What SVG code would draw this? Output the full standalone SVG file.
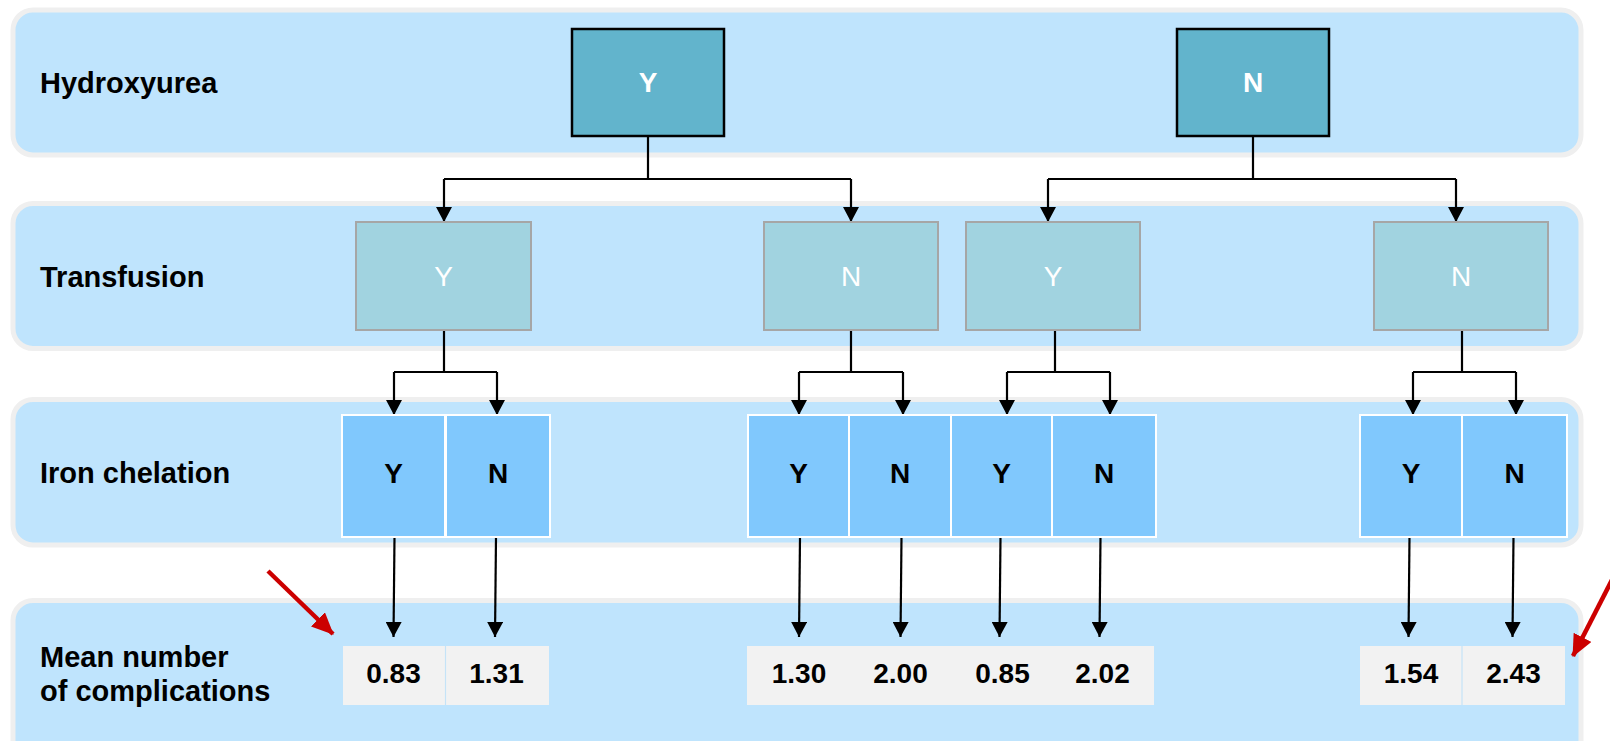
<svg xmlns="http://www.w3.org/2000/svg" width="1610" height="741" viewBox="0 0 1610 741">
<style>
.lane{fill:#bfe4fd;stroke:#efefef;stroke-width:5}
.lbl{font-family:"Liberation Sans",Arial,sans-serif;font-size:29px;font-weight:bold;fill:#000}
.hx{fill:#62b4cc;stroke:#000;stroke-width:2.5}
.hxt{font-family:"Liberation Sans",Arial,sans-serif;font-size:28px;font-weight:bold;fill:#fff;text-anchor:middle}
.tf{fill:#a1d3e0;stroke:#a6a6a6;stroke-width:2}
.tft{font-family:"Liberation Sans",Arial,sans-serif;font-size:28px;fill:#fff;text-anchor:middle}
.ic{fill:#80c8fd;stroke:#fff;stroke-width:2}
.ict{font-family:"Liberation Sans",Arial,sans-serif;font-size:28px;font-weight:bold;fill:#000;text-anchor:middle}
.mn{fill:#f2f2f2;stroke:none}
.div{stroke:#c5e3f7;stroke-width:1.2}
.mnt{font-family:"Liberation Sans",Arial,sans-serif;font-size:28px;font-weight:bold;fill:#000;text-anchor:middle}
.c{fill:none;stroke:#000;stroke-width:2.2}
.ca{fill:none;stroke:#000;stroke-width:2.2;marker-end:url(#ah)}
.red{fill:none;stroke:#cc0000;stroke-width:4.5;marker-end:url(#rh)}
</style>
<defs>
<marker id="ah" markerUnits="userSpaceOnUse" viewBox="0 0 15 16" refX="15" refY="8" markerWidth="15" markerHeight="16" orient="auto">
<path d="M0,0 L15,8 L0,16 z" fill="#000"/>
</marker>
<marker id="rh" markerUnits="userSpaceOnUse" viewBox="0 0 22 20" refX="21" refY="10" markerWidth="22" markerHeight="20" orient="auto">
<path d="M0,0 L22,10 L0,20 z" fill="#cc0000"/>
</marker>
</defs>

<g id="lanes">
<rect class="lane" x="13" y="10" width="1568" height="145" rx="20"/>
<rect class="lane" x="13" y="203.5" width="1568" height="145" rx="20"/>
<rect class="lane" x="13" y="399.5" width="1568" height="145.5" rx="20"/>
<rect class="lane" x="13" y="600.5" width="1568" height="160" rx="20"/>
<text class="lbl" x="40" y="93">Hydroxyurea</text>
<text class="lbl" x="40" y="287">Transfusion</text>
<text class="lbl" x="40" y="483">Iron chelation</text>
<text class="lbl" x="40" y="667">Mean number</text>
<text class="lbl" x="40" y="701">of complications</text>
</g>

<g id="connectors">
<path class="c" d="M648,137 V179 M444,179 H851 M1253,137 V179 M1048,179 H1456"/>
<path class="ca" d="M444,179 V222"/>
<path class="ca" d="M851,179 V222"/>
<path class="ca" d="M1048,179 V222"/>
<path class="ca" d="M1456,179 V222"/>
<path class="c" d="M444,330 V372 M394,372 H497 M851,330 V372 M799,372 H903 M1055,330 V372 M1007,372 H1110 M1462,330 V372 M1413,372 H1516"/>
<path class="ca" d="M394,372 V415"/>
<path class="ca" d="M497,372 V415"/>
<path class="ca" d="M799,372 V415"/>
<path class="ca" d="M903,372 V415"/>
<path class="ca" d="M1007,372 V415"/>
<path class="ca" d="M1110,372 V415"/>
<path class="ca" d="M1413,372 V415"/>
<path class="ca" d="M1516,372 V415"/>
<path class="ca" d="M394.5,537 L393.5,637"/>
<path class="ca" d="M496,537 L495,637"/>
<path class="ca" d="M800,537 L799,637"/>
<path class="ca" d="M901.5,537 L900.5,637"/>
<path class="ca" d="M1000.5,537 L999.5,637"/>
<path class="ca" d="M1100.5,537 L1099.5,637"/>
<path class="ca" d="M1409.5,537 L1408.5,637"/>
<path class="ca" d="M1513.5,537 L1512.5,637"/>
</g>

<g id="hydroxyurea-Y"><rect class="hx" x="572" y="29" width="152" height="107"/><text class="hxt" x="648" y="92">Y</text></g>
<g id="hydroxyurea-N"><rect class="hx" x="1177" y="29" width="152" height="107"/><text class="hxt" x="1253" y="92">N</text></g>

<g id="transfusion-YY"><rect class="tf" x="356" y="222" width="175" height="108"/><text class="tft" x="443.5" y="286">Y</text></g>
<g id="transfusion-YN"><rect class="tf" x="764" y="222" width="174" height="108"/><text class="tft" x="851" y="286">N</text></g>
<g id="transfusion-NY"><rect class="tf" x="966" y="222" width="174" height="108"/><text class="tft" x="1053" y="286">Y</text></g>
<g id="transfusion-NN"><rect class="tf" x="1374" y="222" width="174" height="108"/><text class="tft" x="1461" y="286">N</text></g>

<g id="iron-YYY"><rect class="ic" x="342" y="415" width="103" height="122"/><text class="ict" x="393.5" y="483">Y</text></g>
<g id="iron-YYN"><rect class="ic" x="446" y="415" width="104" height="122"/><text class="ict" x="498" y="483">N</text></g>
<g id="iron-YNY"><rect class="ic" x="748" y="415" width="101" height="122"/><text class="ict" x="798.5" y="483">Y</text></g>
<g id="iron-YNN"><rect class="ic" x="849" y="415" width="102" height="122"/><text class="ict" x="900" y="483">N</text></g>
<g id="iron-NYY"><rect class="ic" x="951" y="415" width="101" height="122"/><text class="ict" x="1001.5" y="483">Y</text></g>
<g id="iron-NYN"><rect class="ic" x="1052" y="415" width="104" height="122"/><text class="ict" x="1104" y="483">N</text></g>
<g id="iron-NNY"><rect class="ic" x="1360" y="415" width="102" height="122"/><text class="ict" x="1411" y="483">Y</text></g>
<g id="iron-NNN"><rect class="ic" x="1462" y="415" width="105" height="122"/><text class="ict" x="1514.5" y="483">N</text></g>

<g id="mean-group1"><rect class="mn" x="343" y="646" width="206" height="59"/><line class="div" x1="445.5" y1="646" x2="445.5" y2="705"/><text class="mnt" x="393.5" y="683">0.83</text><text class="mnt" x="496.5" y="683">1.31</text></g>
<g id="mean-group2"><rect class="mn" x="747" y="646" width="407" height="59"/><text class="mnt" x="799" y="683">1.30</text><text class="mnt" x="900.5" y="683">2.00</text><text class="mnt" x="1002.5" y="683">0.85</text><text class="mnt" x="1102.5" y="683">2.02</text></g>
<g id="mean-group3"><rect class="mn" x="1360" y="646" width="205" height="59"/><line class="div" x1="1462" y1="646" x2="1462" y2="705"/><text class="mnt" x="1411" y="683">1.54</text><text class="mnt" x="1513.5" y="683">2.43</text></g>

<g id="red-arrows">
<path class="red" d="M268,571 L333,634"/>
<path class="red" d="M1614,576 L1573,656"/>
</g>
</svg>
